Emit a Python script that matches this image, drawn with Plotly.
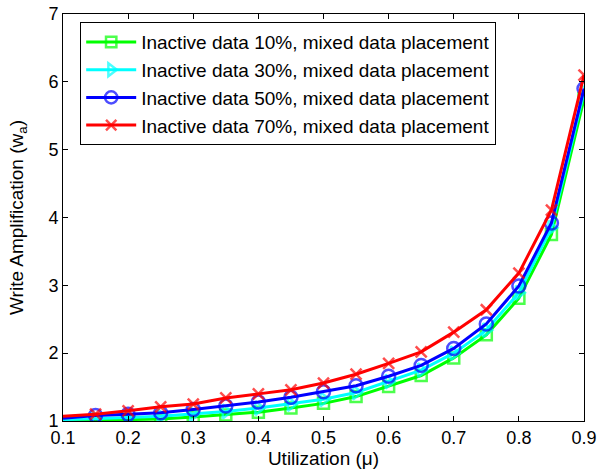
import plotly.graph_objects as go

utilization = [0.1, 0.15, 0.2, 0.25, 0.3, 0.35, 0.4, 0.45, 0.5, 0.55, 0.6, 0.65, 0.7, 0.75, 0.8, 0.85, 0.9]
wa_10 = [1.00, 1.01, 1.01, 1.03, 1.06, 1.09, 1.13, 1.19, 1.26, 1.36, 1.51, 1.67, 1.93, 2.27, 2.81, 3.75, 5.75]
wa_30 = [1.02, 1.03, 1.05, 1.07, 1.10, 1.14, 1.19, 1.25, 1.32, 1.42, 1.58, 1.75, 2.00, 2.34, 2.89, 3.85, 5.85]
wa_50 = [1.04, 1.08, 1.10, 1.12, 1.17, 1.22, 1.28, 1.35, 1.43, 1.52, 1.66, 1.82, 2.07, 2.43, 2.99, 3.92, 5.90]
wa_70 = [1.07, 1.10, 1.15, 1.21, 1.25, 1.34, 1.40, 1.46, 1.56, 1.69, 1.85, 2.02, 2.31, 2.64, 3.18, 4.11, 6.10]

series = [
    ("Inactive data 10%, mixed data placement", wa_10, "#00FF00", "square-open", 11),
    ("Inactive data 30%, mixed data placement", wa_30, "#00FFFF", "triangle-right-open", 12),
    ("Inactive data 50%, mixed data placement", wa_50, "#0000FF", "circle-open", 13),
    ("Inactive data 70%, mixed data placement", wa_70, "#FF0000", "x-thin-open", 11),
]

fig = go.Figure()
for name, vals, color, sym, msize in series:
    sizes = [0] + [msize] * (len(vals) - 1)
    fig.add_trace(go.Scatter(
        x=utilization, y=vals, name=name, mode="lines+markers",
        line=dict(color=color, width=3),
        marker=dict(symbol=sym, size=sizes, color=color, line=dict(color=color, width=2.5)),
    ))

FONT = "Liberation Sans, Arial"
axis_common = dict(
    showline=True, linecolor="black", linewidth=1, mirror="ticks",
    ticks="inside", ticklen=5, tickcolor="black", showgrid=False, zeroline=False,
    automargin=False, ticklabeloverflow="allow",
    tickfont=dict(family=FONT, size=18, color="black"),
)

fig.update_layout(
    width=598, height=475,
    paper_bgcolor="white", plot_bgcolor="white",
    margin=dict(l=63, r=14, t=14, b=54),
    font=dict(family=FONT, color="black"),
    xaxis=dict(range=[0.1, 0.9], tickvals=[0.1, 0.2, 0.3, 0.4, 0.5, 0.6, 0.7, 0.8, 0.9],
               ticktext=["0.1", "0.2", "0.3", "0.4", "0.5", "0.6", "0.7", "0.8", "0.9"],
               ticklabelstandoff=0,
               title=dict(text="Utilization (μ)", font=dict(size=19), standoff=3), **axis_common),
    yaxis=dict(range=[1, 7], tickvals=[1, 2, 3, 4, 5, 6, 7],
               title=dict(text="Write Amplification (w<sub>a</sub>)", font=dict(size=19), standoff=19), **axis_common),
    legend=dict(x=0.033, y=0.98, xanchor="left", yanchor="top",
                bgcolor="white", bordercolor="black", borderwidth=1, itemwidth=50,
                font=dict(family=FONT, size=19, color="black"), tracegroupgap=0),
    showlegend=True,
)

fig.write_html(
    "out.html",
    config={"displayModeBar": False},
    post_script="document.body.style.margin='0';document.body.style.overflow='hidden';",
)
